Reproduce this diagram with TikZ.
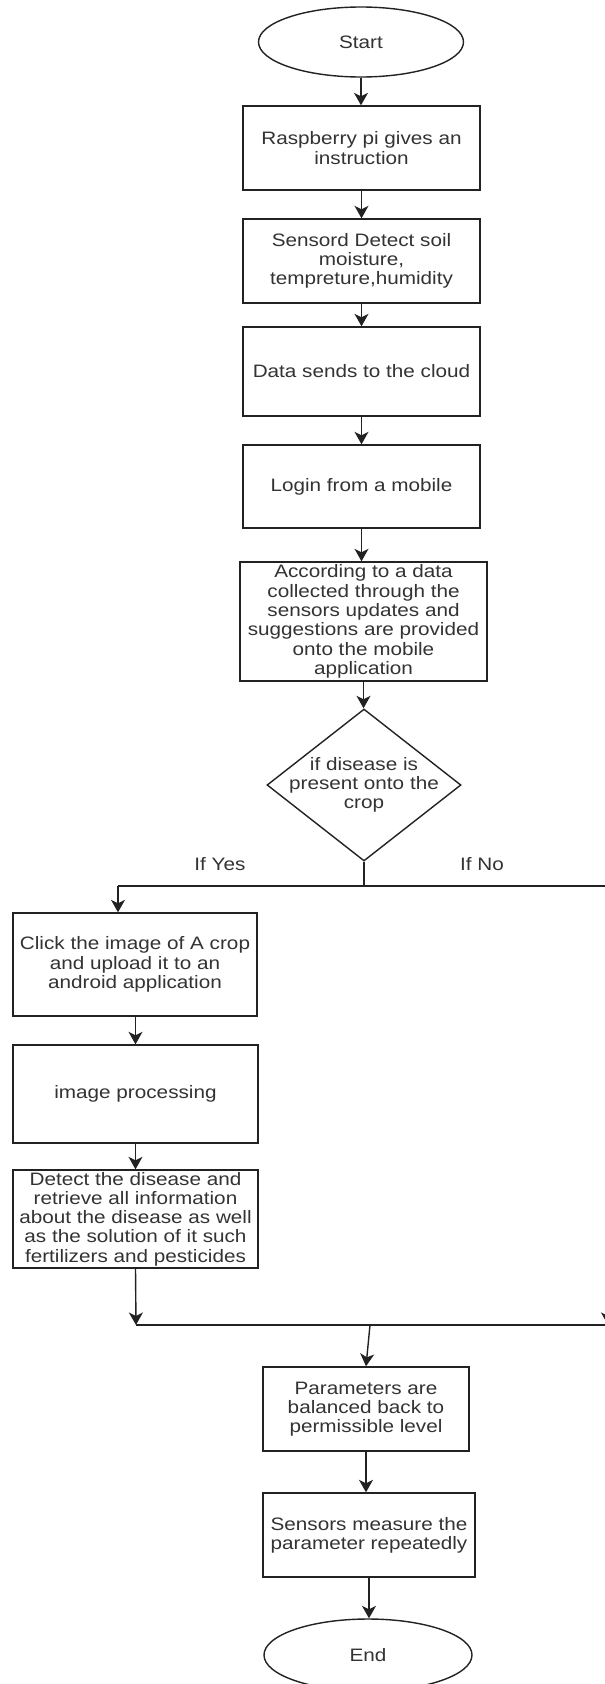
\documentclass[tikz,border=0pt]{standalone}
\usepackage{fontspec}
\setmainfont{Liberation Sans}[FakeStretch=1.15]
\usetikzlibrary{shapes.geometric,arrows.meta}
\definecolor{txt}{HTML}{333333}
\definecolor{ln}{HTML}{222222}
\tikzset{
  base/.style={draw=ln, line width=1.4pt, text=txt, align=center, inner sep=0pt,
    font=\fontsize{18}{19.3}\selectfont},
  procbox/.style={base, rectangle},
  termnode/.style={base, ellipse},
  decnode/.style={base, diamond},
  arr/.style={draw=ln, line width=1.4pt, -{Stealth[length=12.5pt,width=14pt,inset=3.5pt]}},
  plain/.style={draw=ln, line width=1.4pt},
  lbl/.style={text=txt, inner sep=0pt, align=center, font=\fontsize{18}{19.3}\selectfont}
}
\begin{document}
\begin{tikzpicture}[x=1pt,y=-1pt]
\useasboundingbox (0,0) rectangle (605,1684);
\fill[white] (0,0) rectangle (605,1684);
\clip (0,0) rectangle (605,1684);

\node[termnode, minimum width=205pt, minimum height=70pt] (start) at (361,42) {Start};
\node[procbox, minimum width=237pt, minimum height=84pt] (b1) at (361.5,148) {Raspberry pi gives an\\instruction};
\node[procbox, minimum width=237pt, minimum height=84pt] (b2) at (361.5,261) {Sensord Detect soil\\moisture,\\tempreture,humidity};
\node[procbox, minimum width=237pt, minimum height=89pt] (b3) at (361.5,371.5) {Data sends to the cloud};
\node[procbox, minimum width=237pt, minimum height=83pt] (b4) at (361.5,486.5) {Login from a mobile};
\node[procbox, minimum width=247pt, minimum height=119pt] (b5) at (363.5,621.5) {According to a data\\collected through the\\sensors updates and\\suggestions are provided\\onto the mobile\\application};
\node[decnode, minimum width=194pt, minimum height=152pt] (d1) at (364,785) {};
\node[lbl] (d1t) at (d1.center) {if disease is\\present onto the\\crop};

\node[procbox, minimum width=244pt, minimum height=103pt] (c1) at (135,964.5) {Click the image of A crop\\and upload it to an\\android application};
\node[procbox, minimum width=245pt, minimum height=98pt] (c2) at (135.5,1094) {image processing};
\node[procbox, minimum width=245pt, minimum height=98pt] (c3) at (135.5,1219) {Detect the disease and\\retrieve all information\\about the disease as well\\as the solution of it such\\fertilizers and pesticides};

\node[procbox, minimum width=206pt, minimum height=84pt] (p1) at (366,1409) {Parameters are\\balanced back to\\permissible level};
\node[procbox, minimum width=212pt, minimum height=84pt] (p2) at (369,1535) {Sensors measure the\\parameter repeatedly};
\node[termnode, minimum width=208pt, minimum height=72pt] (fin) at (368,1655) {End};

\node[lbl] (yes) at (220,864) {If Yes};
\node[lbl] (no) at (482,864) {If No};

\coordinate (split) at (364,886);
\coordinate (yesL) at (118,886);
\coordinate (noR) at (608,886);
\coordinate (mergeL) at (136,1325);
\coordinate (mergeR) at (608,1325);
\coordinate (mergeM) at (370,1325);

\draw[arr] (start.south) -- (start.south |- b1.north);
\draw[arr] (b1.south) -- (b2.north);
\draw[arr] (b2.south) -- (b3.north);
\draw[arr] (b3.south) -- (b4.north);
\draw[arr] (b4.south) -- (b4.south |- b5.north);
\draw[arr] (b5.south) -- (b5.south |- d1.north);
\draw[plain] (d1.south) -- (split);
\draw[plain] (yesL) -- (noR);
\draw[arr] (yesL) -- (yesL |- c1.north);
\draw[arr] (c1.south -| c2.south) -- (c2.north);
\draw[arr] (c2.south) -- (c3.north);
\draw[arr] (c3.south) -- (mergeL);
\draw[arr] (noR) -- (mergeR);
\draw[plain] (mergeL) -- (mergeR);
\draw[arr] (mergeM) -- (p1.north);
\draw[arr] (p1.south) -- (p2.north -| p1.south);
\draw[arr] (p2.south) -- (p2.south |- fin.north);
\end{tikzpicture}
\end{document}
